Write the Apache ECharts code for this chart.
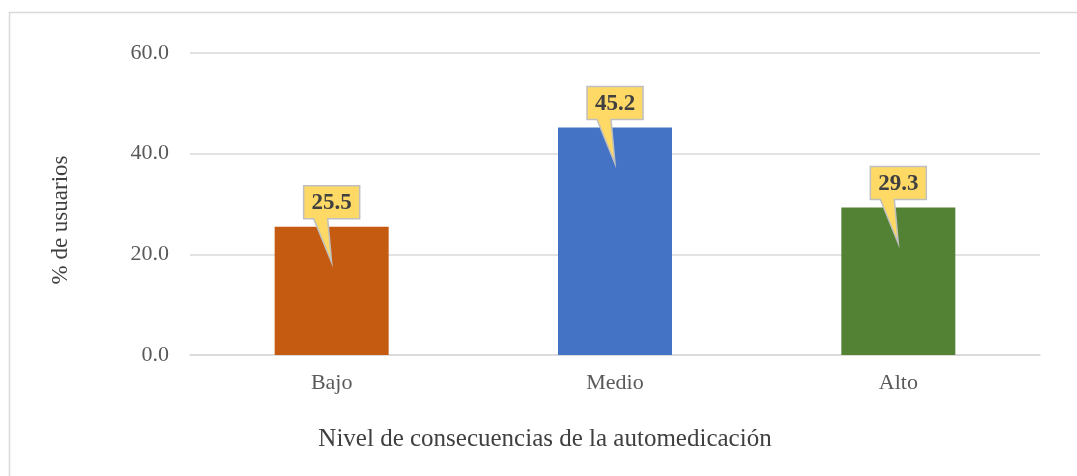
<!DOCTYPE html>
<html>
<head>
<meta charset="utf-8">
<script src="https://cdn.jsdelivr.net/npm/echarts@6/dist/echarts.min.js"></script>
<style>
  html, body { margin: 0; padding: 0; background: #fff; }
  #myChart { width: 1077px; height: 476px; }
</style>
</head>
<body>
<div id="myChart"></div>
<script>
  // datos del grafico
  const niveles = ['Bajo', 'Medio', 'Alto'];
  const porcentajes = [25.5, 45.2, 29.3];
  const yTicks = [0, 20, 40, 60];

  const barColors = ['#C55A11', '#4472C4', '#548235'];
  const serif = '"Liberation Serif", "Times New Roman", serif';

  let myChart = echarts.init(document.getElementById('myChart'));

  // llamada tipo "callout" encima de cada barra
  function renderCallout(params, api) {
    const p = api.coord([api.value(0), api.value(1)]);
    const cx = p[0], top = p[1];
    const L = cx - 28, R = cx + 28, T = top - 41, B = top - 8;
    return {
      type: 'group',
      children: [
        {
          type: 'polygon',
          shape: { points: [[L, T], [R, T], [R, B], [cx - 4, B], [cx, top + 36], [cx - 18, B], [L, B]] },
          style: { fill: '#FFD966', stroke: '#BFBFBF', lineWidth: 1.5 }
        },
        {
          type: 'text',
          style: {
            text: api.value(1).toFixed(1),
            x: cx, y: (T + B) / 2 + 1,
            align: 'center', verticalAlign: 'middle',
            fontFamily: serif, fontWeight: 'bold', fontSize: 23,
            fill: '#404040'
          }
        }
      ]
    };
  }

  myChart.setOption({
    animation: false,
    backgroundColor: '#fff',
    graphic: [{
      type: 'rect',
      shape: { x: 9.5, y: 12.5, width: 1200, height: 600 },
      style: { fill: 'none', stroke: '#D9D9D9', lineWidth: 1.5 },
      silent: true
    }],
    grid: { left: 190, right: 37, top: 53, bottom: 121 },
    xAxis: {
      type: 'category',
      data: niveles,
      name: 'Nivel de consecuencias de la automedicación',
      nameLocation: 'middle',
      nameGap: 72,
      nameTextStyle: { fontFamily: serif, fontSize: 25, color: '#404040', padding: [0, 140, 0, 0] },
      axisLine: { lineStyle: { color: '#D9D9D9', width: 1.5 } },
      axisTick: { show: false },
      axisLabel: { fontFamily: serif, fontSize: 22, color: '#595959', margin: 17 }
    },
    yAxis: {
      type: 'value',
      min: yTicks[0],
      max: yTicks[yTicks.length - 1],
      interval: 20,
      name: '% de usuarios',
      nameLocation: 'middle',
      nameGap: 118,
      nameTextStyle: { fontFamily: serif, fontSize: 23, color: '#404040', padding: [0, 32, 0, 0] },
      axisLine: { show: false },
      axisTick: { show: false },
      splitLine: { lineStyle: { color: '#D9D9D9', width: 1.5 } },
      axisLabel: {
        fontFamily: serif, fontSize: 22, color: '#595959', margin: 21,
        formatter: v => v.toFixed(1)
      }
    },
    series: [
      {
        type: 'bar',
        barWidth: 114,
        data: porcentajes.map((v, i) => ({ value: v, itemStyle: { color: barColors[i] } }))
      },
      {
        type: 'custom',
        renderItem: renderCallout,
        clip: false,
        z: 5,
        data: porcentajes.map((v, i) => [i, v])
      }
    ]
  });
</script>
</body>
</html>
